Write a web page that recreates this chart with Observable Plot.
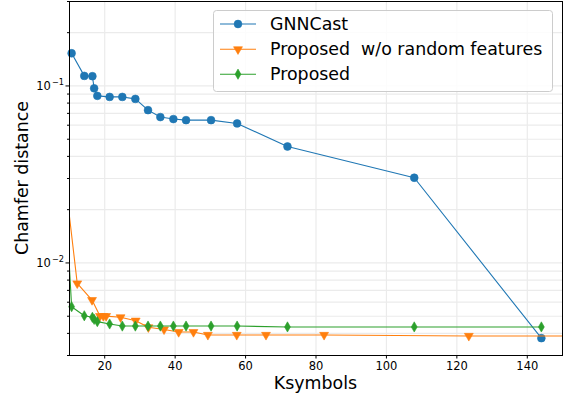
<!DOCTYPE html>
<html><head><meta charset="utf-8">
<script src="https://cdn.jsdelivr.net/npm/d3@7"></script>
<script src="https://cdn.jsdelivr.net/npm/@observablehq/plot@0.6"></script>
<style>body{margin:0;background:#fff} svg{display:block}</style>
</head><body><div id="chart"></div>
<script>
// ---- data ----
const seriesNames = ["GNNCast", "Proposed  w/o random features", "Proposed"];
const seriesColors = ["#1f77b4", "#ff7f0e", "#2ca02c"];

const gnnX = [10.6, 14.2, 16.5, 17.0, 17.9, 21.4, 25.0, 28.7, 32.3, 35.8, 39.5, 43.1, 50.2, 57.6, 71.9, 107.9, 144.0];
const gnnY = [0.153, 0.114, 0.1135, 0.097, 0.0879, 0.0867, 0.0867, 0.0845, 0.0730, 0.0667, 0.065, 0.0641, 0.0641, 0.0614, 0.0455, 0.0303, 0.00376];

const woX = [9.0, 12.2, 16.4, 18.65, 19.6, 20.4, 24.5, 28.8, 32.4, 36.85, 41.0, 45.2, 49.3, 57.5, 65.8, 82.3, 123.4, 160];
const woY = [0.027, 0.00766, 0.00617, 0.00501, 0.00501, 0.00501, 0.00493, 0.00472, 0.00433, 0.00421, 0.00407, 0.00407, 0.00392, 0.00392, 0.00392, 0.00392, 0.00387, 0.00386];

const propX = [9.0, 10.6, 14.2, 16.5, 17.0, 17.9, 21.4, 25.0, 28.7, 32.3, 35.8, 39.5, 43.1, 50.2, 57.6, 71.9, 107.9, 144.0];
const propY = [0.0212, 0.00566, 0.00503, 0.00493, 0.00480, 0.00466, 0.00452, 0.00440, 0.00440, 0.00440, 0.00440, 0.00440, 0.00440, 0.00440, 0.00440, 0.00435, 0.00435, 0.00435];

const xTicks = [20, 40, 60, 80, 100, 120, 140];
const yMajor = [0.01, 0.1];
const yTickBase = ["10", "10"];
const yTickExp = ["\u22122", "\u22121"];
const yMinor = [0.003, 0.004, 0.005, 0.006, 0.007, 0.008, 0.009, 0.02, 0.03, 0.04, 0.05, 0.06, 0.07, 0.08, 0.09, 0.2, 0.3];
const xLabel = "Ksymbols";
const yLabel = "Chamfer distance";

// ---- build rows ----
const rows = (xs, ys) => xs.map((x, i) => ({x, y: ys[i]}));
const series = [rows(gnnX, gnnY), rows(woX, woY), rows(propX, propY)];
const symbols = ["circle", "triangle", "diamond"];
const radii = [3.9, 3.3, 3.1];
const rotations = [0, 180, 0];
const inDomain = d => d.x >= 10 && d.x <= 150;

const seriesMarks = series.flatMap((data, k) => [
  Plot.line(data, {x: "x", y: "y", stroke: seriesColors[k], strokeWidth: 1.1, clip: true}),
  Plot.dot(data, {x: "x", y: "y", filter: inDomain, symbol: symbols[k], r: radii[k], rotate: rotations[k],
    fill: seriesColors[k], stroke: seriesColors[k], strokeWidth: 0.6})
]);

const chart = Plot.plot({
  width: 567, height: 395,
  marginLeft: 69, marginRight: 5, marginTop: 1, marginBottom: 40,
  style: {fontFamily: "DejaVu Sans", fontSize: "11.5px", color: "black", background: "white", overflow: "visible"},
  x: {domain: [10, 150], label: null},
  y: {type: "log", domain: [0.003, 0.3], label: null},
  marks: [
    Plot.gridX(xTicks, {stroke: "#ebebeb", strokeOpacity: 1, strokeWidth: 1.2}),
    Plot.gridY(yMajor.concat(yMinor), {stroke: "#ebebeb", strokeOpacity: 1, strokeWidth: 1.2}),
    ...seriesMarks,
    Plot.frame({stroke: "black", strokeWidth: 1}),
    Plot.axisX(xTicks, {tickSize: 3.5, tickPadding: 3, fontSize: 11.5, label: null, tickFormat: d => String(d)}),
    Plot.axisY(yMajor, {tickSize: 3.5, tickPadding: 2, fontSize: 11.5, label: null,
      tickFormat: d => "E" + yMajor.indexOf(d)}),
    Plot.axisY(yMinor, {tickSize: 2, label: null, tickFormat: () => ""})
  ]
});
document.getElementById("chart").append(chart);

const svg = d3.select(chart);
const font = "DejaVu Sans";

// y tick labels as 10 with a raised exponent
svg.selectAll("text").each(function () {
  const t = d3.select(this);
  const s = t.text();
  if (!/^E\d$/.test(s)) return;
  const i = +s.slice(1);
  t.text(null);
  t.append("tspan").text(yTickBase[i]);
  t.append("tspan").attr("font-size", 8.2).attr("dy", "-0.62em").attr("dx", 1).text(yTickExp[i]);
});

// axis titles
svg.append("text").attr("x", 315.5).attr("y", 388.5).attr("text-anchor", "middle")
  .attr("font-family", font).attr("font-size", 17.4).attr("fill", "black").text(xLabel);
svg.append("text").attr("transform", "translate(28,178) rotate(-90)").attr("text-anchor", "middle")
  .attr("font-family", font).attr("font-size", 17.4).attr("fill", "black").text(yLabel);

// legend
const lg = svg.append("g").attr("text-anchor", "start");
lg.append("rect").attr("x", 213.5).attr("y", 10.5).attr("width", 339).attr("height", 81).attr("rx", 3)
  .attr("fill", "white").attr("fill-opacity", 0.85).attr("stroke", "#cccccc").attr("stroke-width", 1);
const d3sym = [d3.symbolCircle, d3.symbolTriangle, d3.symbolDiamond];
const entryY = [24, 49.3, 74.2];
seriesNames.forEach((name, k) => {
  const y = entryY[k];
  lg.append("line").attr("x1", 220).attr("x2", 256).attr("y1", y).attr("y2", y)
    .attr("stroke", seriesColors[k]).attr("stroke-width", 1.1);
  lg.append("path").attr("d", d3.symbol(d3sym[k], Math.PI * radii[k] * radii[k])())
    .attr("transform", `translate(238,${y}) rotate(${rotations[k]})`)
    .attr("fill", seriesColors[k]).attr("stroke", seriesColors[k]).attr("stroke-width", 0.6);
  lg.append("text").attr("x", 270).attr("y", y + 5.8).attr("text-anchor", "start")
    .attr("font-family", font).attr("font-size", 17.4)
    .attr("fill", "black").style("white-space", "pre").text(name);
});
</script>
</body></html>
